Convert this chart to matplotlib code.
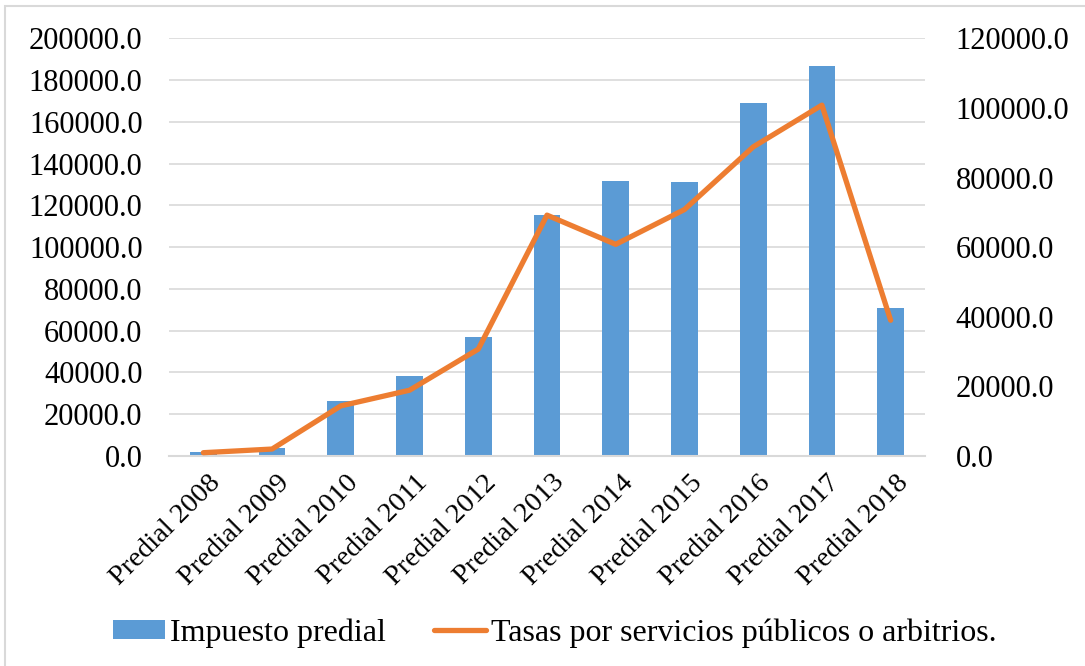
import numpy as np
import matplotlib
matplotlib.use('Agg')
from matplotlib import pyplot as plt
from matplotlib.patches import Rectangle
from matplotlib.ticker import FormatStrFormatter
from matplotlib.transforms import ScaledTranslation

categories = ['Predial 2008', 'Predial 2009', 'Predial 2010', 'Predial 2011', 'Predial 2012',
              'Predial 2013', 'Predial 2014', 'Predial 2015', 'Predial 2016', 'Predial 2017',
              'Predial 2018']
impuesto = [1800, 3700, 26500, 38300, 57000, 115300, 131700, 131400, 169200, 186700, 70800]
tasas = [950, 2000, 14400, 18900, 30700, 69200, 60800, 70800, 88800, 100800, 39000]
left_ticks = [0, 20000, 40000, 60000, 80000, 100000, 120000, 140000, 160000, 180000, 200000]
right_ticks = [0, 20000, 40000, 60000, 80000, 100000, 120000]

plt.rcParams['font.family'] = ['Liberation Serif', 'DejaVu Serif']
fs = 22
blue = '#5B9BD5'
orange = '#ED7D31'
grid = '#D9D9D9'

fig = plt.figure(figsize=(10.85, 6.66), dpi=100)
ax = fig.add_axes([169/1085, 1 - 456/666, 756/1085, (456 - 38.3)/666])
x = np.arange(len(categories))
ax.bar(x, impuesto, width=0.39, color=blue, zorder=2, label='Impuesto predial')
ax.set_xlim(-0.5, len(categories) - 0.5)
ax.set_ylim(0, 200000)
ax.set_yticks(left_ticks)
ax.yaxis.set_major_formatter(FormatStrFormatter('%.1f'))
ax.grid(axis='y', color=grid, lw=1.2, zorder=0)
ax.set_axisbelow(True)
for s in ['top', 'left', 'right']:
	ax.spines[s].set_visible(False)
ax.spines['bottom'].set_color(grid)
ax.spines['bottom'].set_linewidth(1.5)
ax.tick_params(axis='y', length=0, pad=19, labelsize=fs)
ax.tick_params(axis='x', length=0, pad=10, labelsize=20.5)
ax.set_xticks(x)
ax.set_xticklabels(categories, rotation=45, ha='right', va='top', rotation_mode='anchor')
shift = ScaledTranslation(5/100, 0, fig.dpi_scale_trans)
for lbl in ax.get_xticklabels():
	lbl.set_transform(lbl.get_transform() + shift)

ax2 = ax.twinx()
ax2.plot(x, tasas, color=orange, lw=3.8, solid_capstyle='round', solid_joinstyle='round',
	label='Tasas por servicios públicos o arbitrios.')
ax2.set_ylim(0, 120000)
ax2.set_yticks(right_ticks)
ax2.yaxis.set_major_formatter(FormatStrFormatter('%.1f'))
for s in ['top', 'left', 'right', 'bottom']:
	ax2.spines[s].set_visible(False)
ax2.tick_params(axis='y', length=0, pad=22, labelsize=fs)

h1, l1 = ax.get_legend_handles_labels()
h2, l2 = ax2.get_legend_handles_labels()
fig.legend(h1 + h2, l1 + l2, loc='center', bbox_to_anchor=(555/1085, 1 - 633/666), ncol=2,
	frameon=False, fontsize=23, handlelength=1.63, handleheight=0.55, handletextpad=0.15,
	columnspacing=1.5)

fig.patches.append(Rectangle((5/1085, -0.1), 1.2, 0.1 + 1 - 6/666, transform=fig.transFigure,
	fill=False, edgecolor=grid, lw=1.5))

fig.savefig('out.png', dpi=100)
